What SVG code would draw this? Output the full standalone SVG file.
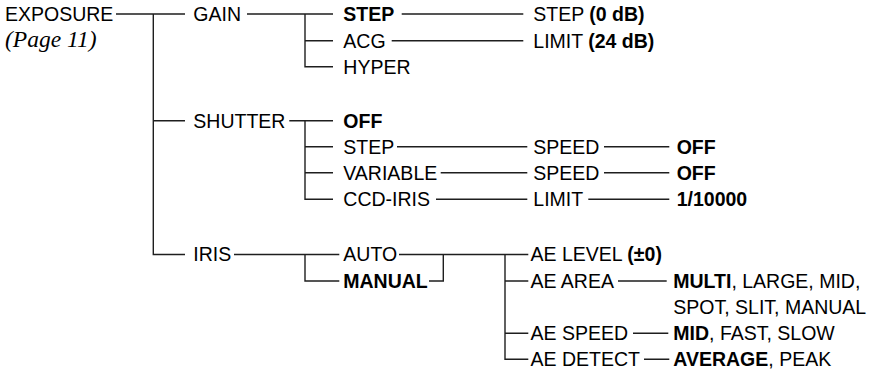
<svg xmlns="http://www.w3.org/2000/svg" width="879" height="372" viewBox="0 0 879 372">
<style>
text{font-family:"Liberation Sans",Arial,sans-serif;font-size:19.5px;fill:#000}
.b{font-weight:bold}
.pg{font-family:"Liberation Serif","Times New Roman",serif;font-style:italic;font-size:23.5px}
.c path{fill:none;stroke:#1e1e1e;stroke-width:1.4}
</style>
<rect width="879" height="372" fill="#fff"/>
<g class="c" id="connectors">
<path d="M116,14H185M153.3,14V254.5H185M153.3,120.7H185"/>
<path d="M247,14H333M305,14V66.7H333M305,40.7H333"/>
<path d="M401.7,14H523.3M391.7,40.7H523.3"/>
<path d="M289.3,120.7H333M305,120.7V199.3H333M305,146.7H333M305,172.7H333"/>
<path d="M397,146.7H527.3M604,146.7H669.3M440.7,172.7H527.3M604,172.7H669.3M436,199.3H527.3M588.3,199.3H669.3"/>
<path d="M234,254.5H339.3M305,254.5V281H339.3"/>
<path d="M399,254.5H528.3M429,281H443.3V254.5"/>
<path d="M505,254.5V359.3H528.3M505,281H528.3M505,333.3H528.3"/>
<path d="M618,281H666.7M633,333.3H668.3M644,359.3H669.3"/>
</g>
<g id="exposure"><text x="5" y="20.8">EXPOSURE</text><text class="pg" x="5" y="46.5">(Page 11)</text></g>
<g id="gain"><text x="193.3" y="20.8">GAIN</text></g>
<g id="gain-step"><text class="b" x="343.3" y="20.8">STEP</text></g>
<g id="gain-acg"><text x="343.3" y="47.5">ACG</text></g>
<g id="gain-hyper"><text x="343.3" y="73.5">HYPER</text></g>
<g id="step-value"><text x="533.3" y="20.8">STEP <tspan class="b">(0 dB)</tspan></text></g>
<g id="limit-value"><text x="533.3" y="47.5">LIMIT <tspan class="b">(24 dB)</tspan></text></g>
<g id="shutter"><text x="193.3" y="127.5">SHUTTER</text></g>
<g id="shutter-off"><text class="b" x="343.3" y="127.5">OFF</text></g>
<g id="shutter-step"><text x="343.3" y="153.5">STEP</text></g>
<g id="shutter-variable"><text x="343.3" y="179.5">VARIABLE</text></g>
<g id="shutter-ccd"><text x="343.3" y="206.1">CCD-IRIS</text></g>
<g id="step-speed"><text x="533.3" y="153.5">SPEED</text></g>
<g id="var-speed"><text x="533.3" y="179.5">SPEED</text></g>
<g id="ccd-limit"><text x="533.3" y="206.1">LIMIT</text></g>
<g id="step-speed-off"><text class="b" x="676.7" y="153.5">OFF</text></g>
<g id="var-speed-off"><text class="b" x="676.7" y="179.5">OFF</text></g>
<g id="ccd-limit-val"><text class="b" x="676.7" y="206.1">1/10000</text></g>
<g id="iris"><text x="193.3" y="261.3">IRIS</text></g>
<g id="iris-auto"><text x="343.3" y="261.3">AUTO</text></g>
<g id="iris-manual"><text class="b" x="343.3" y="287.8">MANUAL</text></g>
<g id="ae-level"><text x="530.5" y="261.3">AE LEVEL <tspan class="b">(±0)</tspan></text></g>
<g id="ae-area"><text x="530.5" y="287.8">AE AREA</text></g>
<g id="ae-area-val"><text x="673.3" y="287.8"><tspan class="b">MULTI</tspan>, LARGE, MID,</text><text x="673.3" y="314">SPOT, SLIT, MANUAL</text></g>
<g id="ae-speed"><text x="530.5" y="340.1">AE SPEED</text></g>
<g id="ae-speed-val"><text x="673.3" y="340.1"><tspan class="b">MID</tspan>, FAST, SLOW</text></g>
<g id="ae-detect"><text x="530.5" y="366.1">AE DETECT</text></g>
<g id="ae-detect-val"><text x="673.3" y="366.1"><tspan class="b">AVERAGE</tspan>, PEAK</text></g>
</svg>
